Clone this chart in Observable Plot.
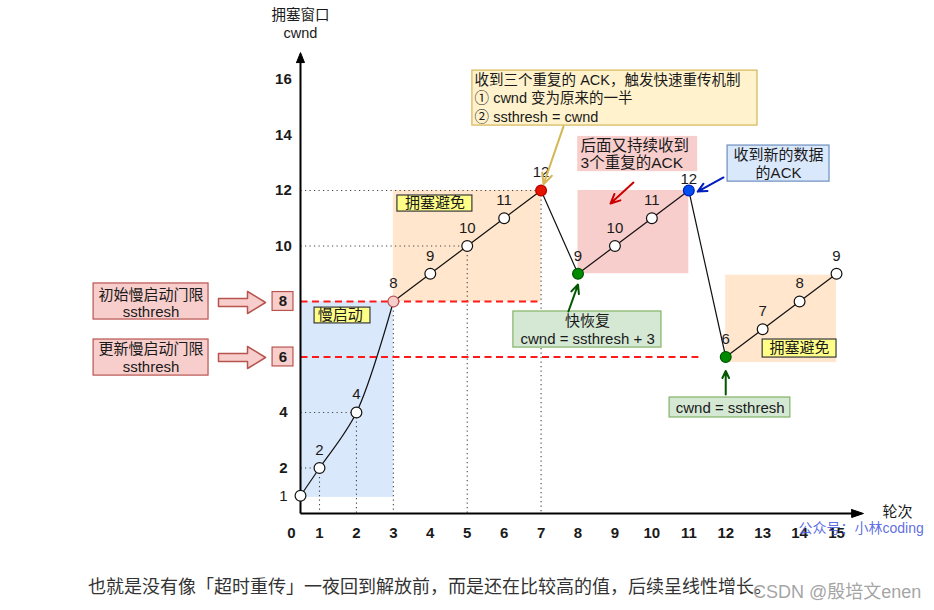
<!DOCTYPE html>
<html><head><meta charset="utf-8">
<script src="https://cdn.jsdelivr.net/npm/d3@7"></script>
<script src="https://cdn.jsdelivr.net/npm/@observablehq/plot@0.6"></script>
<style>
body{margin:0;background:#fff;position:relative;width:934px;height:610px;overflow:hidden;font-family:"Noto Sans CJK SC","Liberation Sans",sans-serif}
#chart svg{display:block;overflow:visible}
#caption{position:absolute;left:88px;top:573px;font-size:18px;line-height:24px;color:#333;white-space:nowrap}
#wm{position:absolute;left:753px;top:579px;font-size:18px;line-height:26px;color:rgba(140,140,140,.8);font-family:"Liberation Sans","Noto Sans CJK SC",sans-serif;white-space:nowrap}
</style></head><body>
<div id="chart"></div>
<div id="caption">也就是没有像「超时重传」一夜回到解放前，而是还在比较高的值，后续呈线性增长。</div>
<div id="wm">CSDN @殷培文enen</div>
<script>
// ---- data ----
const rounds = [0,1,2,3,4,5,6,7,8,9,10,11,12,13,14,15];
const cwnd   = [1,2,4,8,9,10,11,12,9,10,11,12,6,7,8,9];
const xTicks = [0,1,2,3,4,5,6,7,8,9,10,11,12,13,14,15];
const yTicksBold = [2,4,10,12,14,16];
const yTicksPlain = [1];
const ssthreshValues = [8,6];
const ssthreshEnds = [7,11.26];
const guideRounds = [1,2,3,5,7];
const hGuideRounds = [1,2,5,7];

const data = rounds.map((r,i)=>({round:r, cwnd:cwnd[i]}));
const byRound = new Map(data.map(d=>[d.round,d]));
const slowStart = data.slice(0,4);
const linearPart = data.slice(3);

// styles of highlighted points
const pointStyle = {
  3:{fill:"#f8cecc", stroke:"#b85450"},
  7:{fill:"#e51400", stroke:"#b20000"},
  8:{fill:"#008a00", stroke:"#005700"},
  11:{fill:"#0050ef", stroke:"#001dbc"},
  12:{fill:"#008a00", stroke:"#005700"}
};

const axisY0 = 0.36;

// the first round interval is drawn narrower than the others (as in the original diagram)
const firstGap = 19/36.93;
const warp = v => v >= 1 ? v : 1 - (1 - v) * firstGap;

// shaded phases
const phases = [
  {x1:0, x2:3, y1:0.94, y2:8, fill:"#dae8fc"},
  {x1:3, x2:7, y1:8, y2:12, fill:"#ffe6cc"},
  {x1:8, x2:11, y1:9, y2:12, fill:"#f8cecc"},
  {x1:12, x2:15, y1:5.8, y2:8.95, fill:"#ffe6cc"}
];

// annotation boxes
const boxes = [
  {x1:5.14, x2:12.86, y1:14.34, y2:16.32, fill:"#fff2cc", stroke:"#d6b656"},
  {x1:7.99, x2:11.24, y1:12.68, y2:13.95, fill:"#f8cecc", stroke:"none"},
  {x1:12.05, x2:14.81, y1:12.32, y2:13.62, fill:"#dae8fc", stroke:"#6c8ebf"},
  {x1:6.25, x2:10.26, y1:6.34, y2:7.64, fill:"#d5e8d4", stroke:"#82b366"},
  {x1:10.48, x2:13.75, y1:3.82, y2:4.54, fill:"#d5e8d4", stroke:"#82b366"},
  {x1:-10.89, x2:-4.84, y1:7.35, y2:8.65, fill:"#f8cecc", stroke:"#b85450"},
  {x1:-10.89, x2:-4.84, y1:5.33, y2:6.63, fill:"#f8cecc", stroke:"#b85450"},
  {x1:3.11, x2:5.14, y1:11.24, y2:11.82, fill:"#ffff88", stroke:"#36393d"},
  {x1:0.74, x2:2.38, y1:7.21, y2:7.78, fill:"#ffff88", stroke:"#36393d"},
  {x1:13.0, x2:15, y1:5.98, y2:6.63, fill:"#ffff88", stroke:"#36393d"},
  {x1:-1.47, x2:-0.37, y1:7.66, y2:8.34, fill:"#f8cecc", stroke:"#b85450"},
  {x1:-1.47, x2:-0.37, y1:5.66, y2:6.34, fill:"#f8cecc", stroke:"#b85450"}
];

const notesStart = [
  {x:5.2, y:15.35, text:"收到三个重复的 ACK，触发快速重传机制\n① cwnd 变为原来的一半\n② ssthresh = cwnd"}
];
const notesStart2 = [
  {x:8.07, y:13.32, text:"后面又持续收到\n3个重复的ACK"}
];
const notesMiddle = [
  {x:13.43, y:12.97, text:"收到新的数据\n的ACK"},
  {x:8.26, y:6.99, text:"快恢复\ncwnd = ssthresh + 3"},
  {x:12.12, y:4.18, text:"cwnd = ssthresh"},
  {x:-7.87, y:7.95, text:"初始慢启动门限\nssthresh"},
  {x:-7.87, y:5.98, text:"更新慢启动门限\nssthresh"}
];
const phaseLabels = [
  {x:4.13, y:11.53, text:"拥塞避免"},
  {x:1.56, y:7.5, text:"慢启动"},
  {x:14.0, y:6.31, text:"拥塞避免"}
];

const arrows = [
  {x1:7.607, y1:14.31, x2:7.066, y2:12.22, stroke:"#d6b656"},
  {x1:9.50, y1:12.29, x2:8.88, y2:11.53, stroke:"#cc0000"},
  {x1:11.94, y1:12.47, x2:11.24, y2:11.96, stroke:"#001dbc"},
  {x1:7.74, y1:7.64, x2:8.0, y2:8.61, stroke:"#005700"},
  {x1:12.0, y1:4.65, x2:12.0, y2:5.5, stroke:"#005700"}
];

// block arrows and axis heads (polygons)
function blockArrow(id, yc){
  const a=0.144, b=0.396;
  return [[-4.316,yc-a],[-2.789,yc-a],[-2.789,yc-b],[-1.842,yc],[-2.789,yc+b],[-2.789,yc+a],[-4.316,yc+a],[-4.316,yc-a]]
    .map(([x,y])=>({id,x,y}));
}
const blockArrows = [...blockArrow("a8",7.964), ...blockArrow("a6",5.982)];
const axisHeads = [
  ...[[-0.21,16.61],[0,16.97],[0.21,16.61],[-0.21,16.61]].map(([x,y])=>({id:"hy",x,y})),
  ...[[15.41,axisY0+0.144],[15.73,axisY0],[15.41,axisY0-0.144],[15.41,axisY0+0.144]].map(([x,y])=>({id:"hx",x,y}))
];
const axes = [
  {x1:0, y1:axisY0, x2:0, y2:16.7},
  {x1:0, y1:axisY0, x2:15.5, y2:axisY0}
];

const dotted = [
  ...hGuideRounds.map(r=>({x1:0, y1:byRound.get(r).cwnd, x2:r, y2:byRound.get(r).cwnd})),
  ...guideRounds.map(r=>({x1:r, y1:byRound.get(r).cwnd, x2:r, y2:axisY0}))
];
const dashed = ssthreshValues.map((v,i)=>({x1:0, y1:v, x2:ssthreshEnds[i], y2:v}));

const FONT = "'Liberation Sans','Noto Sans CJK SC',sans-serif";
const ink = "#1a1a1a";

const chart = Plot.plot({
  width:934, height:570, margin:0,
  x:{transform:warp, domain:[-7.638, 17.653], range:[0,934], axis:null},
  y:{domain:[0,16], range:[523,79], axis:null},
  color:{type:"identity"},
  style:{fontFamily:FONT, background:"#fff", color:ink},
  marks:[
    Plot.rect(phases,{x1:"x1",x2:"x2",y1:"y1",y2:"y2",fill:"fill"}),
    Plot.link(dotted,{x1:"x1",y1:"y1",x2:"x2",y2:"y2",stroke:"#444",strokeWidth:1.1,strokeDasharray:"1.2,3.3"}),
    Plot.link(dashed,{x1:"x1",y1:"y1",x2:"x2",y2:"y2",stroke:"#ff1a1a",strokeWidth:1.8,strokeDasharray:"7,4.5"}),
    Plot.link(axes,{x1:"x1",y1:"y1",x2:"x2",y2:"y2",stroke:"#000",strokeWidth:2}),
    Plot.line(axisHeads,{x:"x",y:"y",z:"id",fill:"#000",stroke:"#000",strokeWidth:1,curve:"linear"}),
    Plot.line(blockArrows,{x:"x",y:"y",z:"id",fill:"#f8cecc",stroke:"#b85450",strokeWidth:1.5,curve:"linear"}),
    Plot.rect(boxes,{x1:"x1",x2:"x2",y1:"y1",y2:"y2",fill:"fill",stroke:"stroke",strokeWidth:1.2}),
    Plot.text(notesStart,{x:"x",y:"y",text:"text",textAnchor:"start",fontSize:14.5,lineHeight:1.27,fill:ink}),
    Plot.text(notesStart2,{x:"x",y:"y",text:"text",textAnchor:"start",fontSize:15.5,lineHeight:1.15,fill:ink}),
    Plot.text(notesMiddle,{x:"x",y:"y",text:"text",fontSize:15,lineHeight:1.18,fill:ink}),
    Plot.text(phaseLabels,{x:"x",y:"y",text:"text",fontSize:15,fill:ink}),
    Plot.line(slowStart,{x:"round",y:"cwnd",curve:"catmull-rom",stroke:"#111",strokeWidth:1.2}),
    Plot.line(linearPart,{x:"round",y:"cwnd",curve:"linear",stroke:"#111",strokeWidth:1.2}),
    Plot.dot(data,{x:"round",y:"cwnd",r:5.4,
      fill:d=>pointStyle[d.round]?.fill ?? "#fff",
      stroke:d=>pointStyle[d.round]?.stroke ?? "#111",strokeWidth:1.2}),
    Plot.text(data.filter(d=>d.round>0 && d.round!==11),{x:"round",y:"cwnd",text:d=>String(d.cwnd),dy:-18,fontSize:15,fill:ink}),
    Plot.text(data.filter(d=>d.round===11),{x:"round",y:"cwnd",text:d=>String(d.cwnd),dy:-11,fontSize:15,fill:ink}),
    Plot.arrow(arrows,{x1:"x1",y1:"y1",x2:"x2",y2:"y2",stroke:"stroke",strokeWidth:2,headLength:9,headAngle:50}),
    Plot.text(yTicksBold,{x:-0.9,y:d=>d,text:d=>String(d),fontSize:15,fontWeight:"bold",fill:ink}),
    Plot.text(yTicksPlain,{x:-0.9,y:d=>d,text:d=>String(d),fontSize:15,fill:ink}),
    Plot.text(ssthreshValues,{x:-0.92,y:d=>d,text:d=>String(d),fontSize:15,fontWeight:"bold",fill:ink}),
    Plot.text(xTicks.filter(t=>t>0),{x:d=>d,y:-0.36,text:d=>String(d),fontSize:15,fontWeight:"bold",fill:ink}),
    Plot.text(xTicks.filter(t=>t===0),{x:d=>d,y:-0.36,dx:-9,text:d=>String(d),fontSize:15,fontWeight:"bold",fill:ink}),
    Plot.text([{x:0,y:18.31,t:"拥塞窗口"},{x:0,y:17.66,t:"cwnd"}],{x:"x",y:"y",text:"t",fontSize:14.5,fill:ink}),
    Plot.text([{x:16.65,y:0.42,t:"轮次"}],{x:"x",y:"y",text:"t",fontSize:15,fill:ink}),
    Plot.text([{x:13.97,y:-0.18,t:"公众号：小林coding"}],{x:"x",y:"y",text:"t",textAnchor:"start",fontSize:14,fill:"#4a5de0",fillOpacity:0.9})
  ]
});
document.getElementById("chart").appendChild(chart);
</script>
</body></html>
